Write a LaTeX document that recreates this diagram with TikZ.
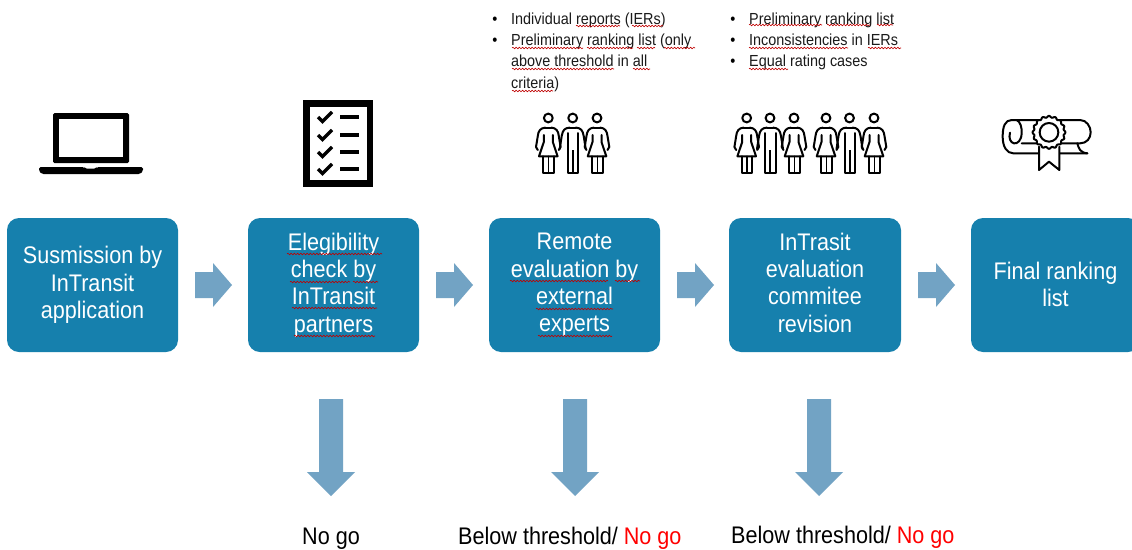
\documentclass[tikz,border=0pt]{standalone}
\usepackage{fontspec}
\setmainfont[FakeStretch=0.9]{Liberation Sans}
\usetikzlibrary{decorations.pathmorphing}
\definecolor{boxblue}{HTML}{1680AD}
\definecolor{arrowblue}{HTML}{72A3C4}
\definecolor{textdark}{HTML}{1A1A1A}
\tikzset{
  x=1pt,y=-1pt,
  procbox/.style={fill=boxblue,rounded corners=12pt,minimum width=171pt,minimum height=134pt,inner sep=0pt,text=white,align=center,font=\fontsize{24}{27.3}\selectfont},
  endtext/.style={text=white,align=center,inner sep=0pt,font=\fontsize{24}{27}\selectfont},
  btxt/.style={anchor=base west,inner sep=0pt,text=textdark,font=\fontsize{16}{21}\selectfont},
  bdot/.style={anchor=base,inner sep=0pt,text=black,font=\fontsize{16}{21}\selectfont},
  outcome/.style={anchor=base west,inner sep=0pt,text=black,font=\fontsize{24}{27}\selectfont},
  squig/.style={draw=red!75!black,line width=.6pt,decorate,decoration={snake,segment length=3.2pt,amplitude=.8pt}},
  blockarrow/.style={fill=arrowblue},
  icon/.style={draw=black,line width=2pt,line join=round,line cap=round},
  pics/woman/.style={code={
    \draw[icon] (0,0) circle (4.4);
    \draw[icon] (-3,9.6) .. controls (-8,10) and (-10,13) .. (-10.5,18) -- (-12.3,29) -- (-10.5,32);
    \draw[icon] (3,9.6) .. controls (8,10) and (10,13) .. (10.5,18) -- (12.3,29) -- (10.5,32);
    \draw[icon] (-3,9.6) -- (3,9.6);
    \draw[icon] (-4.5,17) -- (-4.5,24) -- (-9.3,38.3) -- (9.3,38.3) -- (4.5,24) -- (4.5,17);
    \draw[icon] (-5,38.3) -- (-5,55) -- (5.5,55) -- (5.5,38.3);
    \draw[icon,line width=1.4pt] (0.2,38.3) -- (0.2,55);
  }},
  pics/man/.style={code={
    \draw[icon] (0,0) circle (4.4);
    \draw[icon] (-3,9.6) -- (3,9.6);
    \draw[icon] (-3,9.6) .. controls (-8,10) and (-10,12) .. (-11,18) -- (-13,31);
    \draw[icon] (3,9.6) .. controls (8,10) and (10,12) .. (11,18) -- (13,31);
    \draw[icon] (-5,15) -- (-5,55) -- (5.5,55) -- (5.5,15);
    \draw[icon,line width=2.2pt,line cap=butt] (0.2,32) -- (0.2,55);
  }},
  pics/rightblock/.style={code={
    \fill[blockarrow] (0,-13) -- (18,-13) -- (18,-22) -- (37,0) -- (18,22) -- (18,13) -- (0,13) -- cycle;
  }},
  pics/downblock/.style={code={
    \fill[blockarrow] (-12,0) -- (12,0) -- (12,73) -- (24,73) -- (0,97) -- (-24,73) -- (-12,73) -- cycle;
  }},
  pics/chk/.style={code={
    \draw[black,line width=3.2pt,line join=miter] (-7,0) -- (-2.5,4.5) -- (7,-5);
    \draw[black,line width=3.6pt] (15,0) -- (34,0);
  }},
}
\newcommand{\sq}[3]{\draw[squig] (#1,#3) -- (#2,#3);}
\begin{document}
\begin{tikzpicture}
\useasboundingbox (0,0) rectangle (1132,549);
\fill[white] (0,0) rectangle (1132,549);

% process boxes
\node[procbox] (b1) at (92.5,285) {Susmission by\\InTransit\\application};
\node[procbox] (b2) at (333.5,285) {Elegibility\\check by\\InTransit\\partners};
\node[procbox] (b3) at (574.5,285) {Remote\\evaluation by\\external\\experts};
\node[procbox,minimum width=172pt] (b4) at (815,285) {InTrasit\\evaluation\\commitee\\revision\rule[-5pt]{0pt}{5pt}};
\fill[boxblue,rounded corners=12pt] (1140,218) -- (971,218) -- (971,352) -- (1140,352) -- cycle;
\node[endtext] (b5) at (1055.5,284) {Final ranking\\list};

% block arrows
\pic at (195,285) {rightblock};
\pic at (436,285) {rightblock};
\pic at (677,285) {rightblock};
\pic at (918,285) {rightblock};
\pic at (331,399) {downblock};
\pic at (575,399) {downblock};
\pic at (819,399) {downblock};

% outcomes
\node[outcome] (o1) at (302,544) {No go};
\node[outcome] (o2) at (458,544) {Below threshold/ \textcolor{red}{No go}};
\node[outcome] (o3) at (731,543) {Below threshold/ \textcolor{red}{No go}};

% bullet lists
\node[bdot] (d1) at (495,24) {•};
\node[bdot] (d2) at (495,45) {•};
\node[btxt] (t1) at (511,24) {Individual reports (IERs)};
\node[btxt] (t2) at (511,45) {Preliminary ranking list (only};
\node[btxt] (t3) at (511,66) {above threshold in all};
\node[btxt] (t4) at (511,88) {criteria)};
\node[bdot] (d3) at (733,24) {•};
\node[bdot] (d4) at (733,45) {•};
\node[bdot] (d5) at (733,66) {•};
\node[btxt] (t5) at (749,24) {Preliminary ranking list};
\node[btxt] (t6) at (749,45) {Inconsistencies in IERs};
\node[btxt] (t7) at (749,66) {Equal rating cases};

% spell-check squiggles
\sq{287}{382}{254}\sq{290}{350}{282}\sq{353}{378}{282}\sq{292}{377}{308}\sq{294}{375}{336}
\sq{510}{608}{281}\sq{615}{640}{281}\sq{536}{613}{309}\sq{538}{612}{336}
\sq{576}{620}{26}\sq{632}{663}{26}
\sq{512}{583}{48}\sq{587}{633}{48}\sq{637}{655}{48}\sq{664}{695}{48}
\sq{512}{614}{69}\sq{633}{650}{69}\sq{512}{553}{91}
\sq{749}{822}{25}\sq{827}{870}{25}\sq{877}{893}{25}
\sq{749}{848}{48}\sq{868}{901}{48}\sq{749}{788}{69}

% laptop
\fill[black,rounded corners=1.5pt] (53,113) rectangle (129,163);
\fill[white] (59,119) rectangle (123,157);
\fill[black,rounded corners=1.5pt] (39,167) -- (84,167) -- (85,168.5) -- (96,168.5) -- (97,167) -- (143,167) -- (143,171) -- (140,174) -- (42,174) -- (39,171) -- cycle;

% checklist
\fill[black] (303,100) rectangle (373,187);
\fill[white] (310,107) rectangle (367,180);
\pic at (325,117) {chk};
\pic at (325,135) {chk};
\pic at (325,152) {chk};
\pic at (325,169) {chk};

% people
\pic at (548.3,118) {woman};
\pic at (572.7,118) {man};
\pic at (597,118) {woman};
\pic at (746.7,118) {woman};
\pic at (770,118) {man};
\pic at (794,118) {woman};
\pic at (826,118) {woman};
\pic at (849.5,118) {man};
\pic at (874,118) {woman};

% diploma
\begin{scope}[shift={(980,100)},scale=1/3]
  \draw[icon] (95,60) -- (300,60) .. controls (320,60) and (332,80) .. (332,97) .. controls (332,115) and (320,130) .. (300,130) -- (125,130);
  \draw[icon] (95,60) .. controls (75,60) and (68,80) .. (68,110) .. controls (68,140) and (80,160) .. (100,160) -- (322,160);
  \draw[icon] (292,130) .. controls (296,145) and (300,158) .. (322,160);
  \draw[icon] (110,60) .. controls (120,65) and (126,80) .. (125,100) .. controls (124,122) and (112,132) .. (102,130) .. controls (92,128) and (85,115) .. (90,98);
  \fill[white] (177,130) rectangle (238,205);
  \draw[icon] (177,140) -- (177,210) -- (207,185) -- (238,210) -- (238,140);
  \filldraw[icon,fill=white] plot[smooth cycle,samples=96,domain=0:356.25] ({207+(47+2.5*cos(16*\x))*cos(\x)},{97+(47+2.5*cos(16*\x))*sin(\x)});
  \draw[icon] (207,97) circle (28);
\end{scope}
\end{tikzpicture}
\end{document}
